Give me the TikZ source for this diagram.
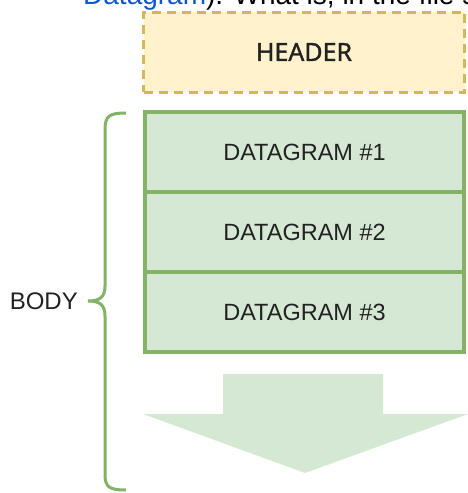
\documentclass[tikz,border=0pt]{standalone}
\usepackage{fontspec}
\setmainfont{Liberation Sans}
\newfontfamily\hdrfont[FakeBold=1.2]{Noto Sans}
\usetikzlibrary{positioning}
\definecolor{dgfill}{HTML}{D5E8D4}
\definecolor{dgline}{HTML}{82B366}
\definecolor{hdfill}{HTML}{FFF2CC}
\definecolor{hdline}{HTML}{D6B656}
\definecolor{linkblue}{HTML}{1155CC}
\definecolor{txt}{HTML}{222222}
\tikzset{
  dgbox/.style={draw=dgline, fill=dgfill, line width=3.2pt, minimum width=319pt,
    minimum height=80pt, inner sep=0pt, outer sep=0pt, text=txt,
    font=\fontsize{23.5}{27}\selectfont},
  hdbox/.style={draw=hdline, fill=hdfill, line width=3pt, dash pattern=on 9pt off 6pt,
    minimum width=321pt, minimum height=80pt, inner sep=0pt, text=txt,
    font=\hdrfont\fontsize{25}{29}\selectfont}
}
\begin{document}
\begin{tikzpicture}[x=1pt, y=-1pt]
\useasboundingbox (0,0) rectangle (468,493);
\clip (0,0) rectangle (468,493);
% cut off line of the page text above
\node[anchor=base west, inner sep=0pt, font=\fontsize{28}{32}\selectfont] (toptext) at (83,4)
  {\textcolor{linkblue}{Datagram}). What is, in the file s};
% header
\node[hdbox] (header) at (304,52) {HEADER};
% datagrams
\node[dgbox] (dg1) at (304.5,152) {DATAGRAM \#1};
\node[dgbox, below=0pt of dg1] (dg2) {DATAGRAM \#2};
\node[dgbox, below=0pt of dg2] (dg3) {DATAGRAM \#3};
% down arrow
\fill[dgfill] (223,374) -- (383,374) -- (383,414) -- (468,414) -- (305,473)
  -- (143,414) -- (223,414) -- cycle;
% brace
\draw[dgline, line width=3pt] (126,113) .. controls (109,113) and (105,116) .. (105,130)
  -- (105,286) .. controls (105,297) and (100,301) .. (88,301)
  .. controls (100,301) and (105,305) .. (105,316)
  -- (105,474) .. controls (105,487) and (109,490) .. (126,490);
\node[anchor=east, inner sep=0pt, text=txt, font=\fontsize{24}{28}\selectfont] (body) at (78,301) {BODY};
\end{tikzpicture}
\end{document}
